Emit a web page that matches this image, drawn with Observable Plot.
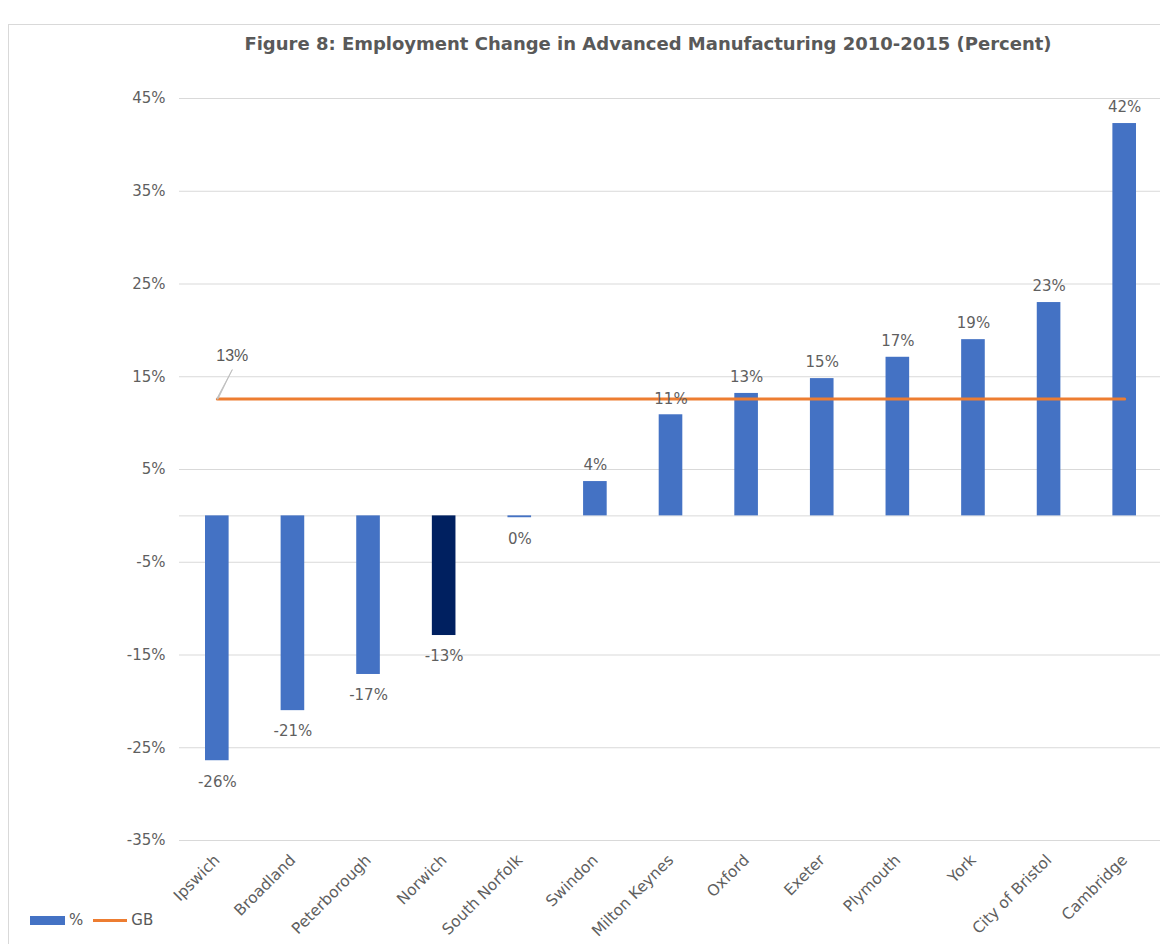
<!DOCTYPE html>
<html>
<head>
<meta charset="utf-8">
<script src="https://cdn.jsdelivr.net/npm/d3@7"></script>
<script src="https://cdn.jsdelivr.net/npm/@observablehq/plot@0.6"></script>
<style>
  html, body { margin: 0; padding: 0; background: #fff; }
  #wrap { position: relative; width: 1160px; height: 944px; overflow: hidden; font-family: "DejaVu Sans", sans-serif; }
  #frame { position: absolute; left: 8px; top: 24px; width: 1200px; height: 1000px; border: 1px solid #d9d9d9; box-sizing: border-box; }
  #title { position: absolute; left: 0; width: 1296px; top: 33px; text-align: center; font-size: 18px; font-weight: bold; color: #595959; white-space: nowrap; }
  #chart { position: absolute; left: 0; top: 0; width: 1162px; }
  #legend { position: absolute; left: 30px; top: 911px; font-size: 15px; color: #595959; display: flex; align-items: center; }
  .sw-bar { display: inline-block; width: 35px; height: 9px; background: #4472C4; margin-right: 4px; }
  .sw-line { display: inline-block; width: 34px; height: 3px; background: #ED7D31; margin-left: 10px; margin-right: 4px; }
</style>
</head>
<body>
<div id="wrap">
  <div id="frame"></div>
  <div id="chart"></div>
  <div id="title">Figure 8: Employment Change in Advanced Manufacturing 2010-2015 (Percent)</div>
  <div id="legend"><span class="sw-bar"></span><span>%</span><span class="sw-line"></span><span>GB</span></div>
</div>
<script>
const categories = ["Ipswich","Broadland","Peterborough","Norwich","South Norfolk","Swindon","Milton Keynes","Oxford","Exeter","Plymouth","York","City of Bristol","Cambridge"];
const values = [-26.4,-21.0,-17.1,-12.9,-0.2,3.7,10.9,13.2,14.8,17.1,19.0,23.0,42.3];
const highlighted = ["Norwich"];
const gbValue = 12.6;
const yTicks = [45,35,25,15,5,-5,-15,-25,-35];
const gridLines = [45,35,25,15,5,0,-5,-15,-25,-35];

const data = categories.map((c, i) => ({category: c, value: values[i]}));
const gbData = categories.map(c => ({category: c, value: gbValue}));
const fmt = v => Math.round(v) === 0 ? "0%" : Math.round(v) + "%";

const chart = Plot.plot({
  width: 1162,
  height: 944,
  marginTop: 98,
  marginBottom: 104,
  marginLeft: 179,
  marginRight: 0,
  style: {fontFamily: "DejaVu Sans, sans-serif", fontSize: "15px", color: "#595959", background: "transparent", overflow: "visible", maxWidth: "none"},
  x: {domain: categories, padding: 0, round: false},
  y: {domain: [-35, 45]},
  marks: [
    Plot.ruleY(gridLines, {stroke: "#d9d9d9", strokeWidth: 1}),
    Plot.axisY(yTicks, {tickSize: 0, tickPadding: 14, tickFormat: d => d + "%", label: null, fill: "#5f5f5f", fontSize: 15}),
    Plot.axisX({tickSize: 0, tickPadding: 17, tickRotate: -45, label: null, fill: "#5f5f5f", fontSize: 15.5}),
    Plot.barY(data, {x: "category", y: "value", insetLeft: 26, insetRight: 26,
      fill: d => highlighted.includes(d.category) ? "#002060" : "#4472C4"}),
    Plot.lineY(gbData, {x: "category", y: "value", stroke: "#ED7D31", strokeWidth: 3}),
    Plot.text(data.filter(d => d.value >= 0), {x: "category", y: "value", text: d => fmt(d.value), dy: -16, fill: "#5f5f5f", fontSize: 15}),
    Plot.text(data.filter(d => d.value < 0), {x: "category", y: "value", text: d => fmt(d.value), dy: 21, fill: "#5f5f5f", fontSize: 15}),
    Plot.vector(gbData.slice(0, 1), {x: "category", y: "value", rotate: 27, length: 33, anchor: "start", shape: "spike", r: 0.6, fill: "#bfbfbf", stroke: "#bfbfbf", strokeWidth: 0.8}),
    Plot.text(gbData.slice(0, 1), {x: "category", y: "value", text: d => Math.round(d.value) + "%", dx: 15, dy: -43, fill: "#595959", fontSize: 16, fontFamily: "Liberation Sans, sans-serif"})
  ]
});
document.getElementById("chart").appendChild(chart);
</script>
</body>
</html>
